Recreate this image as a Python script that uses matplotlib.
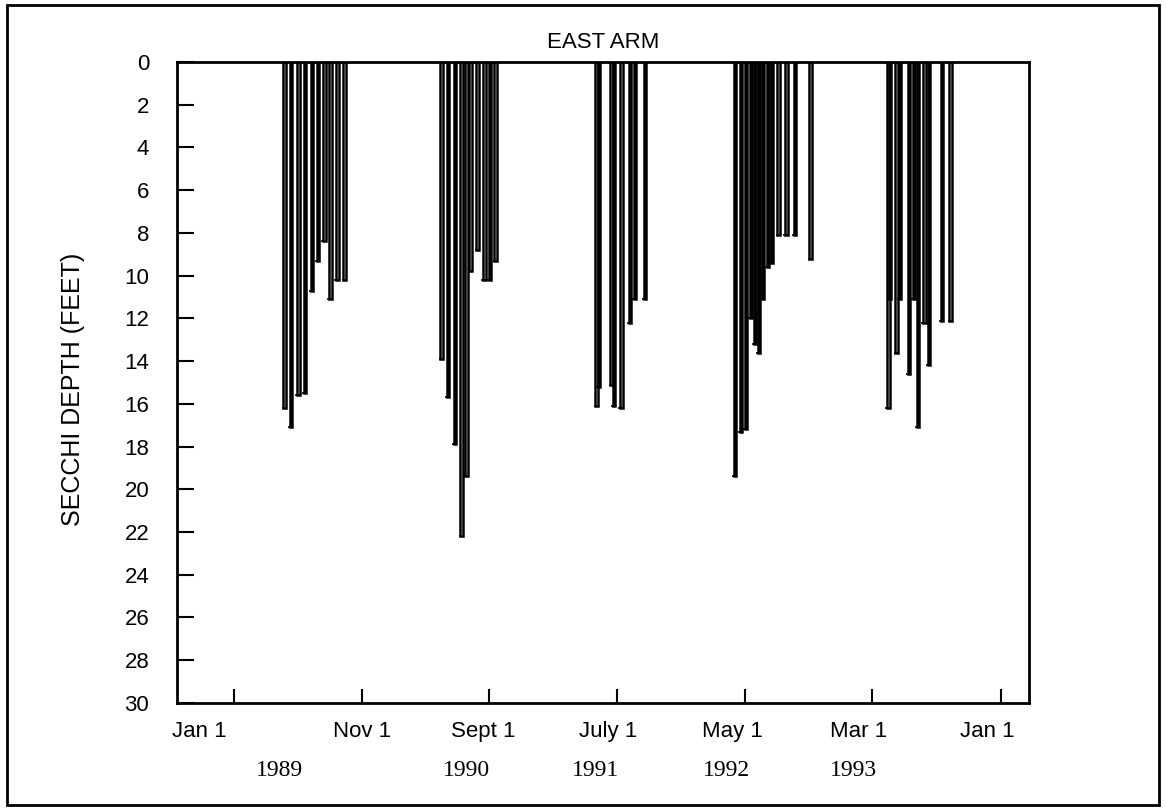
import matplotlib
matplotlib.use("Agg")
import matplotlib.pyplot as plt
import matplotlib.dates as mdates
import matplotlib.transforms as mtransforms
from matplotlib.patches import Rectangle
import pandas as pd

plt.rcParams["font.family"] = ["Liberation Sans", "DejaVu Sans"]

# sampling dates and secchi depths (feet), East Arm
dates_1989 = ["1989-05-01", "1989-05-17", "1989-06-03", "1989-06-19", "1989-07-06",
              "1989-07-20", "1989-08-04", "1989-08-18", "1989-09-04", "1989-09-21"]
depth_1989 = [16.2, 17.1, 15.6, 15.5, 10.7, 9.3, 8.4, 11.1, 10.2, 10.2]

dates_1990 = ["1990-05-10", "1990-05-25", "1990-06-11", "1990-06-27", "1990-07-08",
              "1990-07-18", "1990-08-04", "1990-08-20", "1990-09-02", "1990-09-16"]
depth_1990 = [13.9, 15.7, 17.9, 22.2, 19.4, 9.8, 8.8, 10.2, 10.2, 9.3]

dates_1991 = ["1991-05-14", "1991-05-20", "1991-06-19", "1991-06-25", "1991-07-12",
              "1991-08-02", "1991-08-14", "1991-09-07"]
depth_1991 = [16.1, 15.2, 15.1, 16.1, 16.2, 12.2, 11.1, 11.1]

dates_1992 = ["1992-04-08", "1992-04-22", "1992-05-04", "1992-05-16", "1992-05-25",
              "1992-06-04", "1992-06-14", "1992-06-26", "1992-07-05", "1992-07-21",
              "1992-08-08", "1992-08-29", "1992-10-05"]
depth_1992 = [19.4, 17.3, 17.2, 12.0, 13.2, 13.6, 11.1, 9.6, 9.4, 8.1, 8.1, 8.1, 9.2]

dates_1993 = ["1993-04-08", "1993-04-12", "1993-04-28", "1993-05-06", "1993-05-27",
              "1993-06-08", "1993-06-18", "1993-07-03", "1993-07-14", "1993-08-14",
              "1993-09-03"]
depth_1993 = [16.2, 11.1, 13.6, 11.1, 14.6, 11.1, 17.1, 12.2, 14.2, 12.1, 12.1]

tick_dates = ["1989-01-01", "1989-11-01", "1990-09-01", "1991-07-01",
              "1992-05-01", "1993-03-01", "1994-01-01"]
# the printed month labels sit a little left of their ticks
tick_label_dates = ["1988-10-11", "1989-11-01", "1990-08-18", "1991-06-10",
                    "1992-04-02", "1993-01-26", "1993-11-29"]
tick_labels = ["Jan 1", "Nov 1", "Sept 1", "July 1", "May 1", "Mar 1", "Jan 1"]

years = ["1989", "1990", "1991", "1992", "1993"]
year_label_dates = ["1989-04-20", "1990-07-09", "1991-05-11", "1992-03-19", "1993-01-14"]

all_dates = pd.to_datetime(dates_1989 + dates_1990 + dates_1991 + dates_1992 + dates_1993)
all_depths = depth_1989 + depth_1990 + depth_1991 + depth_1992 + depth_1993

fig = plt.figure(figsize=(11.66, 8.08), dpi=100)
ax = fig.add_axes([0.1518, 0.13, 0.7307, 0.7933])

x = mdates.date2num(all_dates)
ax.bar(x, all_depths, width=6, bottom=0, align="center",
       facecolor="white", edgecolor="black", linewidth=1.8)
# little caps at the bottom of each bar
ax.hlines(all_depths, x - 7, x - 1, color="black", linewidth=1.2)

ax.set_ylim(30, 0)
ax.set_yticks(range(0, 31, 2))
ax.set_xlim(mdates.date2num(pd.Timestamp("1988-08-18")),
            mdates.date2num(pd.Timestamp("1994-03-09")))
ax.set_xticks(mdates.date2num(pd.to_datetime(tick_dates)))
ax.set_xticklabels([])

ax.tick_params(axis="y", direction="in", length=12, width=1.5, labelsize=16, pad=20)
ax.tick_params(axis="x", direction="in", length=10, width=1.5)
for side in ax.spines.values():
    side.set_linewidth(2)

ax.set_ylabel("SECCHI DEPTH (FEET)", fontsize=18)
ax.yaxis.set_label_coords(-0.108, 0.49)
ax.set_title("EAST ARM", fontsize=16, pad=10)

trans = mtransforms.blended_transform_factory(ax.transData, ax.transAxes)
for d, lab in zip(pd.to_datetime(tick_label_dates), tick_labels):
    ax.text(mdates.date2num(d), -0.045, lab, transform=trans, ha="center", va="center",
            fontsize=16)
for d, yr in zip(pd.to_datetime(year_label_dates), years):
    ax.text(mdates.date2num(d), -0.105, yr, transform=trans, ha="center", va="center",
            fontsize=17, family="Liberation Serif")

fig.patches.append(Rectangle((0.006, 0.004), 0.988, 0.99, transform=fig.transFigure,
                             fill=False, edgecolor="black", linewidth=2))

fig.savefig("out.png", dpi=100)
